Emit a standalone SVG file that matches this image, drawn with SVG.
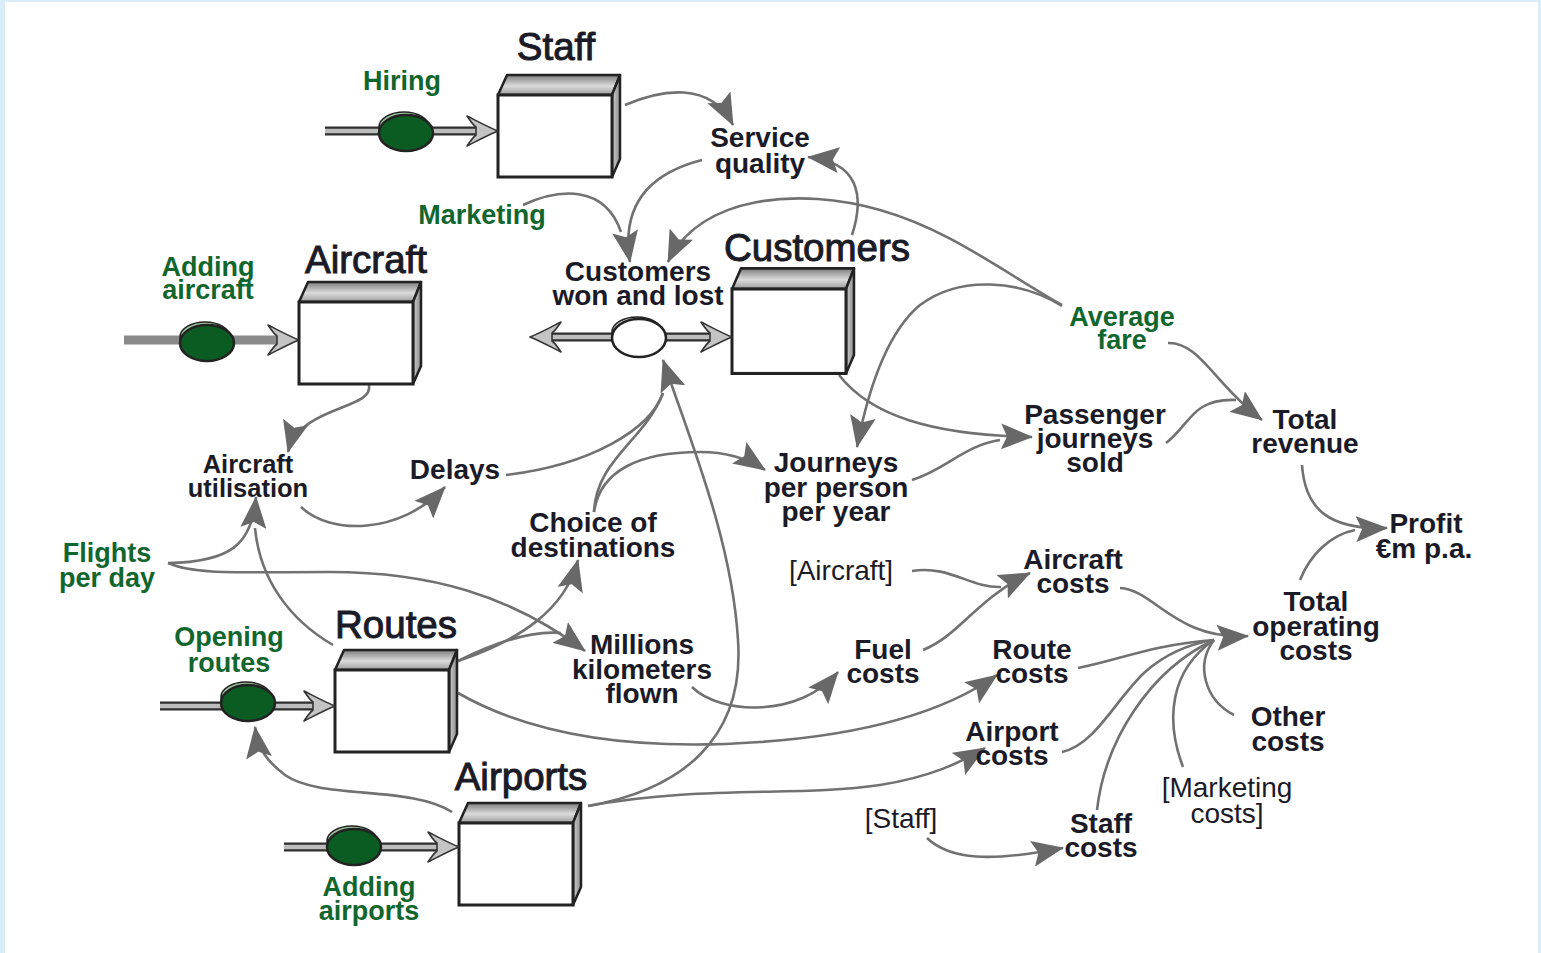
<svg xmlns="http://www.w3.org/2000/svg" xmlns:xlink="http://www.w3.org/1999/xlink" width="1541" height="953" viewBox="0 0 1541 953">
  <style>
    .t { font-family: "Liberation Sans", Arial, sans-serif; font-weight: bold; font-size: 28px; fill: #1b1b27; text-anchor: middle; }
    .g { fill: #11662e; font-size: 27px; }
    .r { font-weight: normal; }
    .sm { font-size: 25.5px; }
    .title { font-weight: normal; font-size: 38.5px; stroke: #1b1b27; stroke-width: 1px; }
    .link { fill: none; stroke: #717171; stroke-width: 2.6; }
    .pipeOut { stroke: #2e2e2e; stroke-width: 9; }
    .pipeIn { stroke: #bdbdbd; stroke-width: 4.5; }
    .pipeSolid { stroke: #8a8a8a; stroke-width: 9; }
    .flowHead { fill: #c4c4c4; stroke: #333; stroke-width: 1.6; stroke-linejoin: round; }
    .valveBack { fill: #9fc69f; stroke: #222; stroke-width: 1.6; }
    .valveFront { fill: #0b5c22; stroke: #222; stroke-width: 2.5; }
    .valveBackW { fill: #c8c8c8; stroke: #222; stroke-width: 1.6; }
    .valveFrontW { fill: #ffffff; stroke: #222; stroke-width: 2.5; }
    .front { fill: #ffffff; stroke: #222; stroke-width: 3; }
    .top { fill: url(#topShade); stroke: #222; stroke-width: 2.5; stroke-linejoin: round; }
    .side { fill: url(#sideShade); stroke: #222; stroke-width: 2.5; stroke-linejoin: round; }
  </style>
  <defs>
    <linearGradient id="topShade" x1="0" y1="0" x2="0" y2="1">
      <stop offset="0" stop-color="#7c7c7c"/>
      <stop offset="0.55" stop-color="#dcdcdc"/>
      <stop offset="1" stop-color="#9a9a9a"/>
    </linearGradient>
    <linearGradient id="sideShade" x1="0" y1="0" x2="1" y2="0">
      <stop offset="0" stop-color="#d0d0d0"/>
      <stop offset="1" stop-color="#8c8c8c"/>
    </linearGradient>
    <marker id="arrow" viewBox="0 0 32 26" refX="31" refY="13" markerWidth="32" markerHeight="26" markerUnits="userSpaceOnUse" orient="auto">
      <path d="M0,0 L32,13 L0,26 L6,13 Z" fill="#686868"/>
    </marker>
    <!-- stock: 3D box, front face origin at (0,0) -->
    <g id="stock">
      <path class="top" d="M0,0 L9,-20 L122,-20 L114,0 Z"/>
      <path class="side" d="M114,0 L122,-20 L122,64 L114,82 Z"/>
      <rect class="front" x="0" y="0" width="114" height="82"/>
    </g>
    <!-- flow arrowhead, tip at origin pointing right -->
    <path id="flowHead" class="flowHead" d="M0,0 C-10,-4 -21,-10 -31,-15 C-27,-9 -25,-6 -22,-4 L-22,4 C-25,6 -27,9 -31,15 C-21,10 -10,4 0,0 Z"/>
  </defs>

  <!-- page frame -->
  <rect x="0" y="0" width="1541" height="953" fill="#d8edf7"/>
  <rect x="5" y="2" width="1533" height="951" fill="#ffffff"/>

  <!-- causal links -->
  <g id="connectors">
    <path class="link" marker-end="url(#arrow)" d="M625,105 C660,90 710,80 733,125"/>
    <path class="link" marker-end="url(#arrow)" d="M702,160 C655,172 620,200 630,262"/>
    <path class="link" d="M523,205 C560,188 605,185 621,232"/>
    <path class="link" marker-end="url(#arrow)" d="M1062,305 C1000,270 950,230 880,210 C800,187 700,195 668,262"/>
    <path class="link" marker-end="url(#arrow)" d="M852,235 C865,195 858,162 808,157"/>
    <path class="link" marker-end="url(#arrow)" d="M1062,306 C1020,280 960,275 920,305 C890,330 870,380 857,447"/>
    <path class="link" marker-end="url(#arrow)" d="M839,375 C870,415 930,435 1032,437"/>
    <path class="link" d="M912,480 C945,470 965,445 1000,440"/>
    <path class="link" marker-end="url(#arrow)" d="M1168,343 C1200,342 1215,385 1262,420"/>
    <path class="link" d="M1166,443 C1190,425 1192,398 1236,400"/>
    <path class="link" marker-end="url(#arrow)" d="M1302,465 C1305,510 1330,530 1387,528"/>
    <path class="link" d="M1300,580 C1310,555 1330,535 1355,530"/>
    <path class="link" marker-end="url(#arrow)" d="M369,385 C374,410 300,405 288,452"/>
    <path class="link" marker-end="url(#arrow)" d="M301,507 C330,535 400,535 445,487"/>
    <path class="link" d="M506,475 C590,465 650,430 663,393"/>
    <path class="link" d="M594,512 C596,460 645,440 663,393"/>
    <path class="link" marker-end="url(#arrow)" d="M588,806 C680,790 745,740 738,640 C732,540 690,440 663,360"/>
    <path class="link" marker-end="url(#arrow)" d="M594,512 C600,470 640,452 700,452 C730,452 750,460 765,470"/>
    <path class="link" marker-end="url(#arrow)" d="M168,563 C230,562 252,545 256,497"/>
    <path class="link" d="M333,645 C290,620 260,580 255,528"/>
    <path class="link" marker-end="url(#arrow)" d="M168,563 C195,575 240,572 330,572 C430,572 510,595 585,651"/>
    <path class="link" d="M458,661 C490,645 530,630 561,633"/>
    <path class="link" marker-end="url(#arrow)" d="M458,661 C520,640 565,610 578,560"/>
    <path class="link" marker-end="url(#arrow)" d="M458,693 C540,740 650,750 760,742 C860,735 940,715 997,675"/>
    <path class="link" marker-end="url(#arrow)" d="M692,687 C720,715 800,718 838,672"/>
    <path class="link" d="M912,571 C950,565 970,588 1001,587"/>
    <path class="link" marker-end="url(#arrow)" d="M923,650 C960,635 975,600 1030,573"/>
    <path class="link" marker-end="url(#arrow)" d="M588,806 C700,785 800,797 880,785 C930,777 960,763 985,748"/>
    <path class="link" marker-end="url(#arrow)" d="M927,838 C950,860 990,862 1063,848"/>
    <path class="link" marker-end="url(#arrow)" d="M1120,588 C1155,590 1175,640 1248,636"/>
    <path class="link" d="M1078,668 C1120,660 1150,645 1214,640"/>
    <path class="link" d="M1062,752 C1095,745 1115,700 1145,672 C1170,650 1195,643 1214,640"/>
    <path class="link" d="M1097,810 C1105,740 1150,670 1214,640"/>
    <path class="link" d="M1183,767 C1165,720 1170,670 1214,640"/>
    <path class="link" d="M1234,715 C1205,700 1195,665 1214,640"/>
    <path class="link" marker-end="url(#arrow)" d="M452,812 C410,785 320,800 285,775 C268,762 258,750 255,727"/>
  </g>

  <!-- stocks -->
  <g id="staff">
    <use xlink:href="#stock" transform="translate(498,95)"/>
    <text class="t title" x="556" y="60">Staff</text>
  </g>
  <g id="aircraft">
    <use xlink:href="#stock" transform="translate(299,302)"/>
    <text class="t title" x="366" y="273">Aircraft</text>
  </g>
  <g id="customers">
    <use xlink:href="#stock" transform="translate(732,289) scale(1,1.03)"/>
    <text class="t title" x="817" y="261">Customers</text>
  </g>
  <g id="routes">
    <use xlink:href="#stock" transform="translate(335,670)"/>
    <text class="t title" x="396" y="638">Routes</text>
  </g>
  <g id="airports">
    <use xlink:href="#stock" transform="translate(459,823)"/>
    <text class="t title" x="521" y="790">Airports</text>
  </g>

  <!-- flows -->
  <g id="hiring">
    <line class="pipeOut" x1="325" y1="131" x2="478" y2="131"/>
    <line class="pipeIn" x1="325" y1="131" x2="480" y2="131"/>
    <use xlink:href="#flowHead" transform="translate(498,131)"/>
    <ellipse class="valveBack" cx="404" cy="127" rx="25" ry="15"/>
    <ellipse class="valveFront" cx="406" cy="133" rx="27" ry="18"/>
    <text class="t g" x="402" y="90">Hiring</text>
  </g>
  <g id="adding-aircraft">
    <line class="pipeSolid" x1="124" y1="340" x2="280" y2="340"/>
    <use xlink:href="#flowHead" transform="translate(299,340)"/>
    <ellipse class="valveBack" cx="205" cy="337" rx="25" ry="15"/>
    <ellipse class="valveFront" cx="207" cy="343" rx="27" ry="18"/>
    <text class="t g" x="208" y="276">Adding<tspan x="208" y="299">aircraft</tspan></text>
  </g>
  <g id="customers-won-and-lost">
    <line class="pipeOut" x1="548" y1="337" x2="714" y2="337"/>
    <line class="pipeIn" x1="546" y1="337" x2="716" y2="337"/>
    <use xlink:href="#flowHead" transform="translate(530,337) scale(-1,1)"/>
    <use xlink:href="#flowHead" transform="translate(732,337)"/>
    <ellipse class="valveBackW" cx="637" cy="332" rx="25" ry="15"/>
    <ellipse class="valveFrontW" cx="639" cy="338" rx="27" ry="19"/>
    <text class="t" x="638" y="281">Customers<tspan x="638" y="305">won and lost</tspan></text>
  </g>
  <g id="opening-routes">
    <line class="pipeOut" x1="160" y1="706" x2="315" y2="706"/>
    <line class="pipeIn" x1="160" y1="706" x2="317" y2="706"/>
    <use xlink:href="#flowHead" transform="translate(335,706)"/>
    <ellipse class="valveBack" cx="246" cy="697" rx="25" ry="15"/>
    <ellipse class="valveFront" cx="248" cy="703" rx="27" ry="18"/>
    <text class="t g" x="229" y="646">Opening<tspan x="229" y="672">routes</tspan></text>
  </g>
  <g id="adding-airports">
    <line class="pipeOut" x1="284" y1="847" x2="439" y2="847"/>
    <line class="pipeIn" x1="284" y1="847" x2="441" y2="847"/>
    <use xlink:href="#flowHead" transform="translate(459,847)"/>
    <ellipse class="valveBack" cx="352" cy="841" rx="25" ry="15"/>
    <ellipse class="valveFront" cx="354" cy="847" rx="27" ry="18"/>
    <text class="t g" x="369" y="896">Adding<tspan x="369" y="920">airports</tspan></text>
  </g>

  <!-- auxiliaries -->
  <g id="service-quality"><text class="t" x="760" y="147">Service<tspan x="760" y="173">quality</tspan></text></g>
  <g id="marketing"><text class="t g" x="482" y="224">Marketing</text></g>
  <g id="average-fare"><text class="t g" x="1122" y="326">Average<tspan x="1122" y="349">fare</tspan></text></g>
  <g id="passenger-journeys"><text class="t" x="1095" y="424">Passenger<tspan x="1095" y="448">journeys</tspan><tspan x="1095" y="472">sold</tspan></text></g>
  <g id="total-revenue"><text class="t" x="1305" y="429">Total<tspan x="1305" y="453">revenue</tspan></text></g>
  <g id="profit"><text class="t" x="1426" y="533">Profit<tspan x="1424" y="558">€m p.a.</tspan></text></g>
  <g id="aircraft-utilisation"><text class="t sm" x="248" y="473">Aircraft<tspan x="248" y="497">utilisation</tspan></text></g>
  <g id="delays"><text class="t" x="455" y="479">Delays</text></g>
  <g id="journeys-per-person"><text class="t" x="836" y="472">Journeys<tspan x="836" y="497">per person</tspan><tspan x="836" y="521">per year</tspan></text></g>
  <g id="choice-of-destinations"><text class="t" x="593" y="532">Choice of<tspan x="593" y="557">destinations</tspan></text></g>
  <g id="flights-per-day"><text class="t g" x="107" y="562">Flights<tspan x="107" y="587">per day</tspan></text></g>
  <g id="millions-km"><text class="t" x="642" y="654">Millions<tspan x="642" y="679">kilometers</tspan><tspan x="642" y="703">flown</tspan></text></g>
  <g id="aircraft-ref"><text class="t r" x="841" y="580">[Aircraft]</text></g>
  <g id="aircraft-costs"><text class="t" x="1073" y="569">Aircraft<tspan x="1073" y="593">costs</tspan></text></g>
  <g id="fuel-costs"><text class="t" x="883" y="659">Fuel<tspan x="883" y="683">costs</tspan></text></g>
  <g id="route-costs"><text class="t" x="1032" y="659">Route<tspan x="1032" y="683">costs</tspan></text></g>
  <g id="total-operating-costs"><text class="t" x="1316" y="611">Total<tspan x="1316" y="636">operating</tspan><tspan x="1316" y="660">costs</tspan></text></g>
  <g id="other-costs"><text class="t" x="1288" y="726">Other<tspan x="1288" y="751">costs</tspan></text></g>
  <g id="airport-costs"><text class="t" x="1012" y="741">Airport<tspan x="1012" y="765">costs</tspan></text></g>
  <g id="marketing-costs-ref"><text class="t r" x="1227" y="797">[Marketing<tspan x="1227" y="823">costs]</tspan></text></g>
  <g id="staff-ref"><text class="t r" x="901" y="828">[Staff]</text></g>
  <g id="staff-costs"><text class="t" x="1101" y="833">Staff<tspan x="1101" y="857">costs</tspan></text></g>
</svg>
